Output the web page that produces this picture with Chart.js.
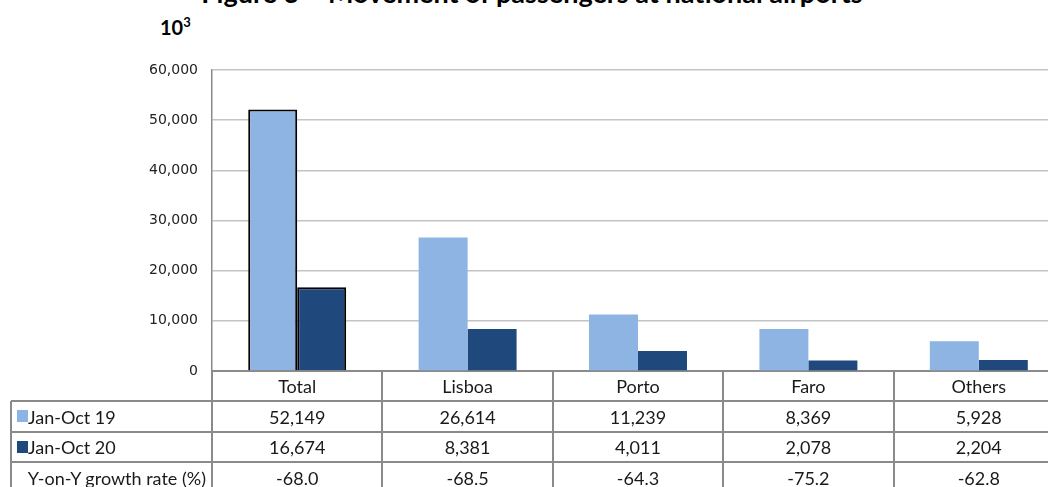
<!DOCTYPE html>
<html>
<head>
<meta charset="utf-8">
<script src="https://cdn.jsdelivr.net/npm/chart.js@4/dist/chart.umd.min.js"></script>
<style>
  html, body { margin: 0; padding: 0; background: #fff; overflow: hidden; }
  #wrap { position: relative; width: 1080px; height: 487px; }
  #title { position: absolute; left: 0; width: 1064px; top: -21px; text-align: center;
           font: bold 27px Lato, sans-serif; line-height: 27px; color: #000; white-space: nowrap; }
  #unit { position: absolute; left: 160px; top: 14px; font: bold 20px Lato, sans-serif; color: #000; }
  #unit sup { font-size: 13px; vertical-align: 8px; }
  #box { position: absolute; left: 0; top: 0; width: 1066px; height: 380px; }
  .ln { position: absolute; background: #8a8a8a; }
  .cell { position: absolute; font: 18px Lato, sans-serif; color: #1a1a1a; text-align: center;
          white-space: nowrap; display: flex; align-items: center; justify-content: center; }
  .sw { position: absolute; width: 11px; height: 12px; }
</style>
</head>
<body>
<div id="wrap">
  <div id="title">Figure 3 – Movement of passengers at national airports</div>
  <div id="unit">10<sup>3</sup></div>
  <div id="box"><canvas id="c"></canvas></div>
  <div id="tbl"></div>
</div>
<script>
/* ---- DATA --------------------------------------------------- */
const categories = ['Total', 'Lisboa', 'Porto', 'Faro', 'Others'];
const seriesNames = ['Jan-Oct 19', 'Jan-Oct 20'];
const jan19 = [52149, 26614, 11239, 8369, 5928];
const jan20 = [16674, 8381, 4011, 2078, 2204];
const growth = ['-68.0', '-68.5', '-64.3', '-75.2', '-62.8'];
const growthLabel = 'Y-on-Y growth rate (%)';
const colors = ['#8EB4E3', '#1F497D'];

const fmt = v => v.toLocaleString('en-US');

/* ---- CHART -------------------------------------------------- */
const chart = new Chart(document.getElementById('c'), {
  type: 'bar',
  data: {
    labels: categories,
    datasets: [jan19, jan20].map((d, i) => ({
      label: seriesNames[i],
      data: d,
      backgroundColor: colors[i],
      borderColor: '#000',
      borderWidth: [2, 0, 0, 0, 0],
      barPercentage: 1,
      categoryPercentage: 0.575
    }))
  },
  options: {
    responsive: true,
    maintainAspectRatio: false,
    animation: false,
    layout: { padding: { top: 70, bottom: 9, left: 0, right: 2 } },
    plugins: { legend: { display: false }, tooltip: { enabled: false } },
    scales: {
      x: {
        ticks: { display: false },
        grid: { display: false },
        border: { display: true, color: '#8a8a8a', width: 2 },
        afterFit: s => { s.height = 0; }
      },
      y: {
        min: 0, max: 60000,
        ticks: { stepSize: 10000, padding: 14, color: '#222',
                 font: { family: 'DejaVu Sans', size: 14 },
                 callback: v => fmt(v) },
        grid: { color: '#c4c4c4', lineWidth: 1.5, drawTicks: false },
        border: { display: true, color: '#8a8a8a', width: 1.5 },
        afterFit: s => { s.width = 212; }
      }
    }
  }
});

// bring the plot floor to y = 371
const box = document.getElementById('box');
const diff = 371 - chart.chartArea.bottom;
if (Math.abs(diff) > 0.5) {
  box.style.height = (380 + diff) + 'px';
  chart.resize();
}

/* ---- DATA TABLE --------------------------------------------- */
function buildTable() {
  const a = chart.chartArea;
  const colW = (a.right - a.left) / categories.length;
  const rows = [a.bottom, 401, 432, 462, 493];
  const tbl = document.getElementById('tbl');
  let html = '';
  const line = (x, y, w, h) => `<div class="ln" style="left:${x}px;top:${y}px;width:${w}px;height:${h}px"></div>`;
  const cell = (x, y, w, h, txt, extra = '') =>
    `<div class="cell" style="left:${x}px;top:${y}px;width:${w}px;height:${h}px;${extra}">${txt}</div>`;

  // horizontal rules
  for (let r = 1; r < 4; r++) html += line(11, rows[r] - 1, a.right - 11, 2);
  // vertical rules
  html += line(10, 401, 2, 90);
  for (let i = 0; i <= categories.length; i++) {
    html += line(Math.round(a.left + i * colW) - 1, a.bottom, 2, 120);
  }
  // category row + values
  const rowVals = [categories, jan19.map(fmt), jan20.map(fmt), growth];
  rowVals.forEach((vals, r) => {
    vals.forEach((v, i) => {
      html += cell(a.left + i * colW, rows[r], colW, rows[r + 1] - rows[r], v);
    });
  });
  // row headers
  seriesNames.forEach((n, i) => {
    const y = rows[i + 1];
    html += `<div class="sw" style="left:17px;top:${y + 9}px;background:${colors[i]}"></div>`;
    html += cell(28, y, 180, rows[i + 2] - y, n, 'justify-content:flex-start');
  });
  html += cell(12, rows[3], 198, rows[4] - rows[3], growthLabel, 'justify-content:flex-end;padding-right:4px;box-sizing:border-box');
  tbl.innerHTML = html;
}
buildTable();
</script>
</body>
</html>
